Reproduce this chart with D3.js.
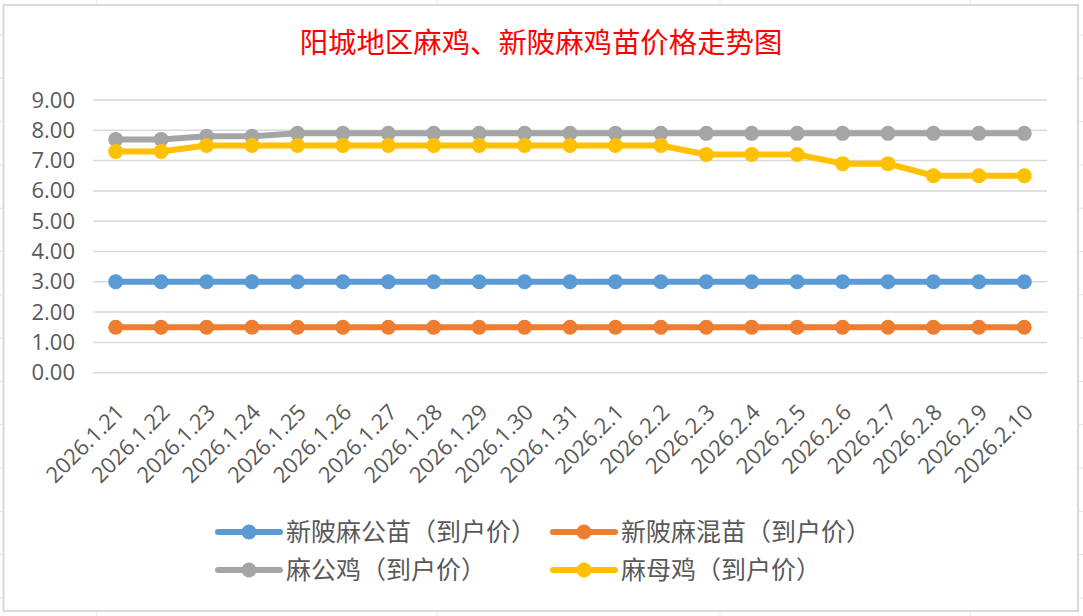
<!DOCTYPE html>
<html><head><meta charset="utf-8">
<script src="https://cdn.jsdelivr.net/npm/d3@7"></script>
<style>html,body{margin:0;padding:0;background:#fff;}svg{display:block;}</style>
</head><body>
<svg id="c" width="1083" height="616"></svg>
<script>
const dates = ["2026.1.21","2026.1.22","2026.1.23","2026.1.24","2026.1.25","2026.1.26","2026.1.27","2026.1.28","2026.1.29","2026.1.30","2026.1.31","2026.2.1","2026.2.2","2026.2.3","2026.2.4","2026.2.5","2026.2.6","2026.2.7","2026.2.8","2026.2.9","2026.2.10"];
const seriesNames = ["新陂麻公苗（到户价）","新陂麻混苗（到户价）","麻公鸡（到户价）","麻母鸡（到户价）"];
const chickMale = [3,3,3,3,3,3,3,3,3,3,3,3,3,3,3,3,3,3,3,3,3];
const chickMixed = [1.5,1.5,1.5,1.5,1.5,1.5,1.5,1.5,1.5,1.5,1.5,1.5,1.5,1.5,1.5,1.5,1.5,1.5,1.5,1.5,1.5];
const rooster = [7.7,7.7,7.8,7.8,7.9,7.9,7.9,7.9,7.9,7.9,7.9,7.9,7.9,7.9,7.9,7.9,7.9,7.9,7.9,7.9,7.9];
const hen = [7.3,7.3,7.5,7.5,7.5,7.5,7.5,7.5,7.5,7.5,7.5,7.5,7.5,7.2,7.2,7.2,6.9,6.9,6.5,6.5,6.5];
const yTicks = [0,1,2,3,4,5,6,7,8,9];
const title = "阳城地区麻鸡、新陂麻鸡苗价格走势图";

const colors = ["#5B9BD5","#ED7D31","#A5A5A5","#FFC000"];
const allSeries = [chickMale, chickMixed, rooster, hen];

const svg = d3.select("#c");
const numFont = "'Open Sans', 'Noto Sans CJK SC', sans-serif";
const cjkFont = "'Noto Sans CJK SC', sans-serif";

// spreadsheet cell lines outside chart
const rows = d3.range(14).map(i => 35 + i*43.3);
const g0 = svg.append("g").attr("stroke","#E2E2E2").attr("stroke-width",1);
rows.forEach(y => {
  g0.append("line").attr("x1",0).attr("x2",3).attr("y1",y).attr("y2",y);
  g0.append("line").attr("x1",1079).attr("x2",1083).attr("y1",y).attr("y2",y);
});
[97,437,720,970].forEach(x => {
  g0.append("line").attr("x1",x).attr("x2",x).attr("y1",0).attr("y2",4);
  g0.append("line").attr("x1",x).attr("x2",x).attr("y1",612).attr("y2",616);
});

// chart border
svg.append("rect").attr("x",3.5).attr("y",5).attr("width",1074.5).attr("height",606)
  .attr("fill","#fff").attr("stroke","#D9D9D9").attr("stroke-width",2);

// title
svg.append("text").attr("x",541).attr("y",53).attr("text-anchor","middle")
  .attr("fill","#FF0000").attr("font-family",cjkFont).attr("font-size",28.4)
  .attr("font-weight","normal").text(title);

const x = d3.scaleBand().domain(dates).range([93,1047]);
const y = d3.scaleLinear().domain([0,9]).range([372.7,100]);

// gridlines
svg.append("g").selectAll("line").data(yTicks).join("line")
  .attr("x1",93).attr("x2",1047).attr("y1",d=>y(d)).attr("y2",d=>y(d))
  .attr("stroke","#D9D9D9").attr("stroke-width",1.5);

// y axis labels
const yAxis = d3.axisLeft(y).tickValues(yTicks).tickFormat(d3.format(".2f")).tickSize(0).tickPadding(18);
const ya = svg.append("g").attr("transform","translate(93,0)").call(yAxis);
ya.select(".domain").remove();
ya.selectAll("text").attr("font-family",numFont).attr("font-size",22).attr("fill","#595959");

// x axis labels
const xAxis = d3.axisBottom(x).tickSize(0);
const xa = svg.append("g").attr("transform","translate(0,372.7)").call(xAxis);
xa.select(".domain").remove();
xa.selectAll(".tick text")
  .attr("font-family",numFont).attr("font-size",22).attr("fill","#595959")
  .attr("text-anchor","end").attr("dy",0).attr("y",0)
  .attr("transform","translate(10,41) rotate(-45)");

// lines and markers
const line = d3.line().x((d,i)=>x(dates[i])+x.bandwidth()/2).y(d=>y(d));
allSeries.forEach((s,k) => {
  const g = svg.append("g");
  g.append("path").datum(s).attr("d",line).attr("fill","none")
    .attr("stroke",colors[k]).attr("stroke-width",6).attr("stroke-linejoin","round");
  g.selectAll("circle").data(s).join("circle")
    .attr("cx",(d,i)=>x(dates[i])+x.bandwidth()/2).attr("cy",d=>y(d)).attr("r",7.5)
    .attr("fill",colors[k]);
});

// legend
const legendPos = [[218,532],[553,532],[218,570],[553,570]];
seriesNames.forEach((name,k) => {
  const [lx,ly] = legendPos[k];
  const g = svg.append("g");
  g.append("line").attr("x1",lx).attr("x2",lx+62).attr("y1",ly).attr("y2",ly)
    .attr("stroke",colors[k]).attr("stroke-width",6).attr("stroke-linecap","round");
  g.append("circle").attr("cx",lx+31).attr("cy",ly).attr("r",7.5).attr("fill",colors[k]);
  g.append("text").attr("x",lx+68).attr("y",ly).attr("dy","0.35em")
    .attr("font-family",cjkFont).attr("font-size",25).attr("fill","#595959").text(name);
});
</script>
</body></html>
